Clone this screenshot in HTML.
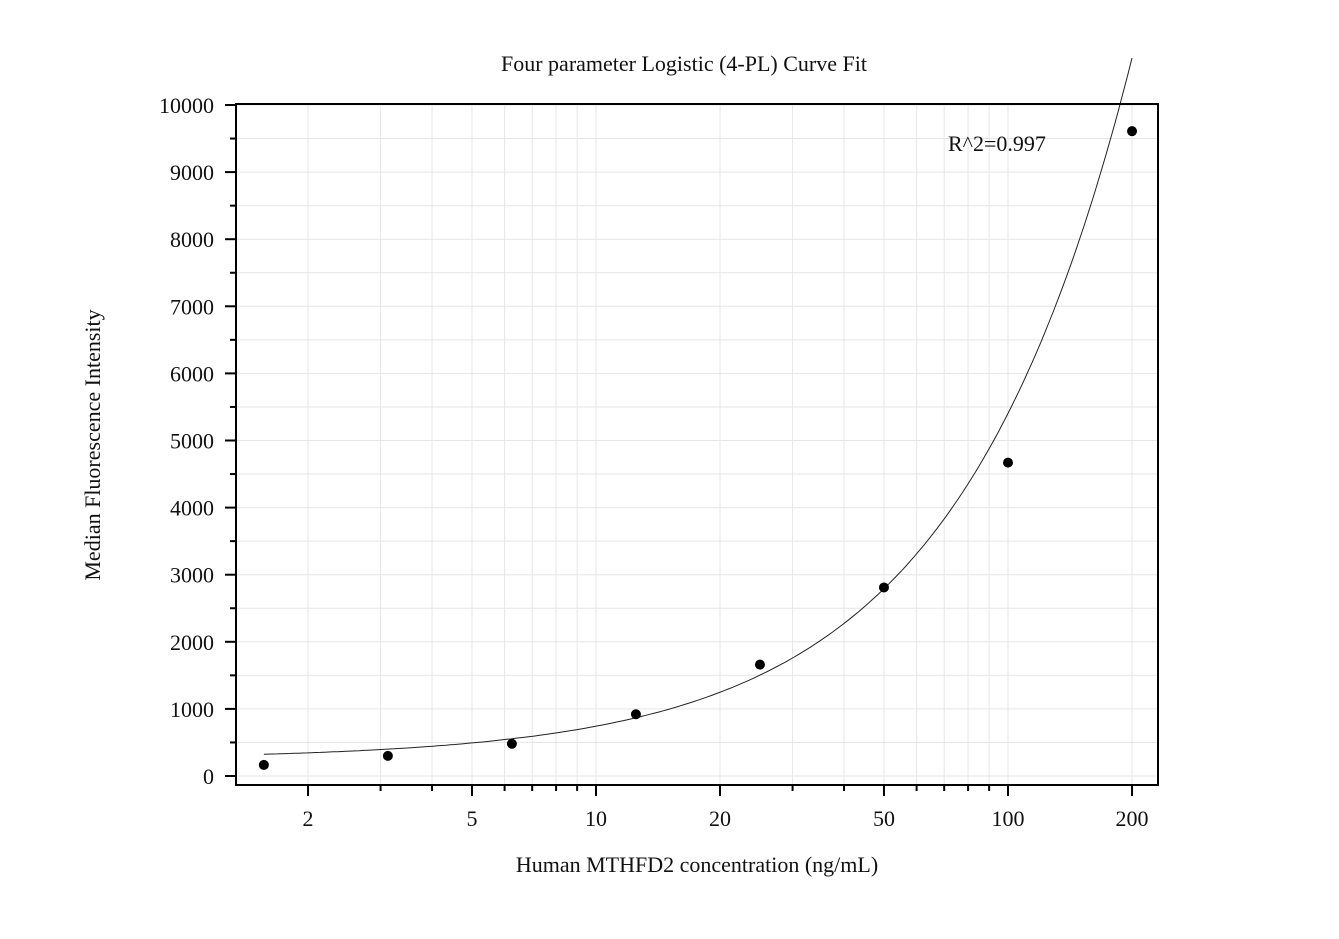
<!DOCTYPE html>
<html><head><meta charset="utf-8"><style>
body{margin:0;background:#fff;}
svg text{font-family:"Liberation Serif",serif;fill:#111;}
</style></head><body>
<svg width="1339" height="934" xmlns="http://www.w3.org/2000/svg">
<g id="grid"></g>
<g id="curve"></g>
<g id="pts"></g>
<rect x="236" y="104" width="922" height="681" fill="none" stroke="#000" stroke-width="2"/>
<g id="axes"></g>
<text x="684" y="71" font-size="22" text-anchor="middle">Four parameter Logistic (4-PL) Curve Fit</text>
<text x="697" y="872" font-size="22" text-anchor="middle">Human MTHFD2 concentration (ng/mL)</text>
<text transform="translate(100,445) rotate(-90)" font-size="22" text-anchor="middle">Median Fluorescence Intensity</text>
<text x="948" y="151" font-size="22">R^2=0.997</text>
</svg>
<script>
const concentrations=[1.5625,3.125,6.25,12.5,25,50,100,200];
const mfiValues=[165,300,480,920,1660,2810,4670,9610];
const fitParams=[250,1.02,47];   // baseline, exponent, scale
const xTickLabels=[2,5,10,20,50,100,200];
const yTickLabels=[0,1000,2000,3000,4000,5000,6000,7000,8000,9000,10000];
const NS="http://www.w3.org/2000/svg";
const X=v=>184+412*Math.log10(v);
const Y=v=>776-0.0671*v;
function mk(t,a,p){const e=document.createElementNS(NS,t);for(const k in a)e.setAttribute(k,a[k]);p.appendChild(e);return e;}
const grid=document.getElementById('grid'),axes=document.getElementById('axes');
// x grid: log minors
for(let d=1;d<=100;d*=10)for(let m=1;m<10;m++){const v=d*m;if(v<1.5||v>220)continue;const x=X(v);
 const g=mk('line',{x1:x,x2:x,y1:104,y2:785,stroke:'#e6e6e6','stroke-width':1},grid);
 
 const t=mk('line',{x1:x,x2:x,y1:785,y2:xTickLabels.includes(v)?796:791,stroke:'#000','stroke-width':2},axes);
 }
xTickLabels.forEach(v=>{const t=mk('text',{x:X(v),y:826,'font-size':22,'text-anchor':'middle'},axes);t.textContent=v;
 });
for(let v=0;v<=10000;v+=500){const y=Y(v);
 const g=mk('line',{x1:236,x2:1158,y1:y,y2:y,stroke:'#e6e6e6','stroke-width':1},grid);
 
 const t=mk('line',{x1:v%1000==0?225:230,x2:236,y1:y,y2:y,stroke:'#000','stroke-width':2},axes);
 }
yTickLabels.forEach(v=>{const t=mk('text',{x:214,y:Y(v)+8,'font-size':22,'text-anchor':'end'},axes);t.textContent=v;
 });
let d='';for(let i=0;i<=200;i++){const c=1.5625*Math.pow(200/1.5625,i/200);
 const v=fitParams[0]+fitParams[2]*Math.pow(c,fitParams[1]);d+=(i?'L':'M')+X(c).toFixed(1)+','+Y(v).toFixed(1);}
const p=mk('path',{d:d,fill:'none',stroke:'#222','stroke-width':1},document.getElementById('curve'));

concentrations.forEach((c,i)=>{const e=mk('circle',{cx:X(c),cy:Y(mfiValues[i]),r:5,fill:'#000'},document.getElementById('pts'));
 });
</script>
</body></html>
